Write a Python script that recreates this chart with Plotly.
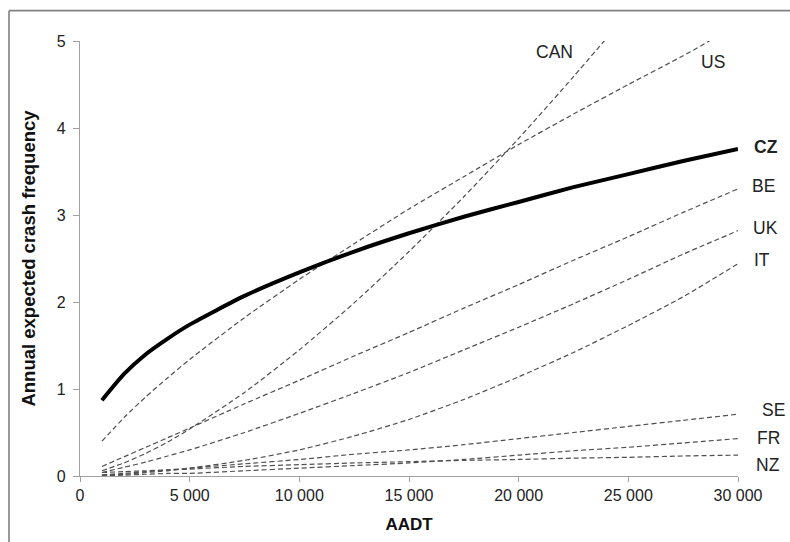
import plotly.graph_objects as go

# ---- data ----
x_common = [1000, 2000, 3000, 4000, 5000, 7500, 10000, 12500, 15000, 17500,
            20000, 22500, 25000, 27500, 30000]

cz = [0.87, 1.17, 1.40, 1.58, 1.74, 2.07, 2.34, 2.58, 2.79, 2.98,
      3.15, 3.32, 3.47, 3.62, 3.76]
be = [0.11, 0.22, 0.33, 0.44, 0.55, 0.83, 1.10, 1.38, 1.65, 1.93,
      2.20, 2.48, 2.75, 3.03, 3.30]
uk = [0.04, 0.10, 0.16, 0.23, 0.30, 0.50, 0.72, 0.95, 1.19, 1.45,
      1.71, 1.98, 2.26, 2.55, 2.82]
it = [0.01, 0.02, 0.04, 0.06, 0.09, 0.18, 0.30, 0.46, 0.65, 0.88,
      1.14, 1.42, 1.73, 2.06, 2.44]
se = [0.014, 0.03, 0.05, 0.07, 0.09, 0.14, 0.19, 0.25, 0.30, 0.36,
      0.43, 0.50, 0.57, 0.64, 0.71]
fr = [0.003, 0.01, 0.02, 0.03, 0.03, 0.06, 0.09, 0.12, 0.15, 0.19,
      0.24, 0.29, 0.33, 0.38, 0.43]
nz = [0.04, 0.05, 0.06, 0.07, 0.08, 0.11, 0.13, 0.15, 0.165, 0.18,
      0.19, 0.205, 0.215, 0.23, 0.24]

x_can = [1000, 2000, 3000, 4000, 5000, 7500, 10000, 12500, 15000, 17500,
         20000, 22500, 24000]
can = [0.06, 0.15, 0.26, 0.39, 0.54, 0.96, 1.45, 1.99, 2.58, 3.21,
       3.88, 4.59, 5.03]

x_us = [1000, 2000, 3000, 4000, 5000, 7500, 10000, 12500, 15000, 17500,
        20000, 22500, 25000, 27500, 28700]
us = [0.40, 0.67, 0.91, 1.13, 1.34, 1.82, 2.26, 2.67, 3.07, 3.44,
      3.81, 4.16, 4.50, 4.83, 5.00]

x_tickvals = [0, 5000, 10000, 15000, 20000, 25000, 30000]
x_ticktext = ["0", "5 000", "10 000", "15 000", "20 000", "25 000", "30 000"]
y_tickvals = [0, 1, 2, 3, 4, 5]

series_names = ["CAN", "US", "CZ", "BE", "UK", "IT", "SE", "FR", "NZ"]

# ---- figure ----
FONT = "Liberation Sans, Arial, sans-serif"
DASH_COLOR = "#505050"
DASH = "5px,3px"

fig = go.Figure()

dashed = [
    ("CAN", x_can, can),
    ("US", x_us, us),
    ("BE", x_common, be),
    ("UK", x_common, uk),
    ("IT", x_common, it),
    ("SE", x_common, se),
    ("FR", x_common, fr),
    ("NZ", x_common, nz),
]
for name, xs, ys in dashed:
    fig.add_trace(go.Scatter(
        x=xs, y=ys, mode="lines", name=name,
        line=dict(color=DASH_COLOR, width=1.2, dash=DASH, shape="spline",
                  smoothing=0.6),
        showlegend=False, hoverinfo="skip"))

fig.add_trace(go.Scatter(
    x=x_common, y=cz, mode="lines", name="CZ",
    line=dict(color="black", width=4, shape="spline", smoothing=0.6),
    showlegend=False, hoverinfo="skip"))

# label positions (paper x, data y)
label_pos = {
    "CAN": (0.7215, 4.873),
    "US": (0.962, 4.758),
    "CZ": (1.0431, 3.787),
    "BE": (1.039, 3.334),
    "UK": (1.0416, 2.855),
    "IT": (1.0365, 2.483),
    "SE": (1.0532, 0.764),
    "FR": (1.0466, 0.442),
    "NZ": (1.0456, 0.131),
}
for name in series_names:
    px, py = label_pos[name]
    txt = "<b>%s</b>" % name if name == "CZ" else name
    fig.add_annotation(x=px, y=py, xref="paper", yref="y", text=txt,
                       showarrow=False, xanchor="center", yanchor="middle",
                       font=dict(family=FONT, size=17.5, color="#222222"))

# outer frame (left and top edges visible)
FRAME = dict(color="#808080", width=1.6)
fig.add_shape(type="line", xref="paper", yref="paper",
              x0=-0.1079, x1=-0.1079, y0=-0.152, y1=1.0698, line=FRAME)
fig.add_shape(type="line", xref="paper", yref="paper",
              x0=-0.1079, x1=1.079, y0=1.0698, y1=1.0698, line=FRAME)

fig.update_layout(
    width=790, height=542,
    margin=dict(l=80, r=52, t=41, b=66),
    paper_bgcolor="white", plot_bgcolor="white",
    font=dict(family=FONT, color="#222222"),
    xaxis=dict(
        range=[0, 30000], tickvals=x_tickvals, ticktext=x_ticktext,
        showgrid=False, zeroline=False, showline=True, linecolor="#a0a0a0",
        linewidth=1.2, ticks="outside", ticklen=5, tickcolor="#a0a0a0",
        tickfont=dict(family=FONT, size=16, color="#222222"),
        title=dict(text="<b>AADT</b>", font=dict(family=FONT, size=17, color="#111111"),
                   standoff=14),
    ),
    yaxis=dict(
        range=[0, 5], tickvals=y_tickvals,
        showgrid=False, zeroline=False, showline=True, linecolor="#a0a0a0",
        linewidth=1.2, ticks="outside", ticklen=6, tickcolor="#a0a0a0",
        tickfont=dict(family=FONT, size=16, color="#222222"),
        ticklabelstandoff=4,
        title=dict(text="<b>Annual expected crash frequency</b>",
                   font=dict(family=FONT, size=18.5, color="#111111"),
                   standoff=16),
    ),
)

fig.write_html(
    "out.html",
    config={"displayModeBar": False},
    post_script=(
        "document.documentElement.style.margin='0';"
        "document.documentElement.style.overflow='hidden';"
        "document.body.style.margin='0';"
        "document.body.style.padding='0';"
        "document.body.style.overflow='hidden';"
    ),
)
